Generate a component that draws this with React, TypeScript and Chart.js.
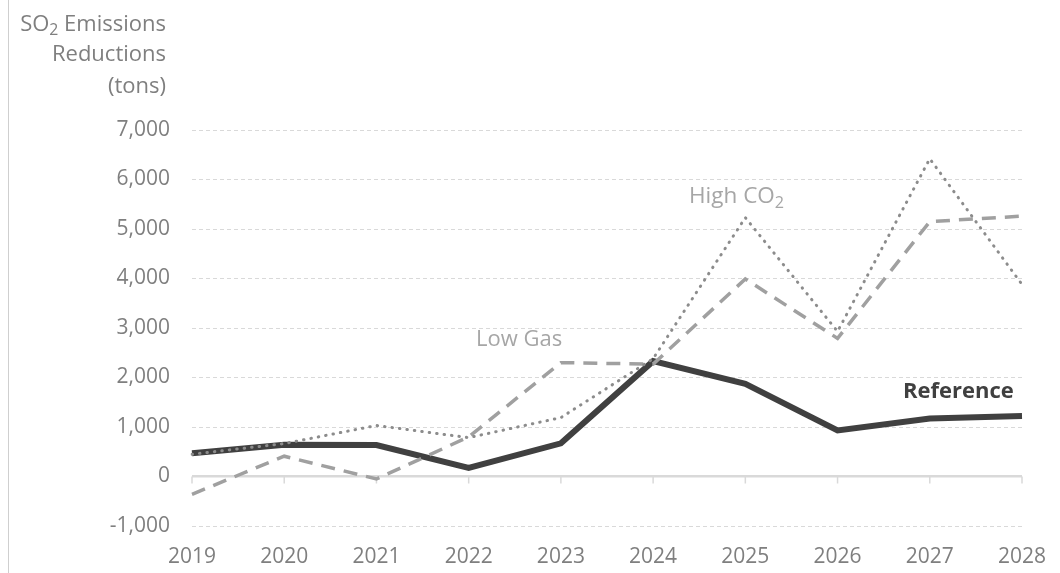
import React, { useEffect, useRef } from "react";
import { Chart, registerables } from "chart.js";

Chart.register(...registerables);

const years = ["2019", "2020", "2021", "2022", "2023", "2024", "2025", "2026", "2027", "2028"];
const referenceValues = [470, 640, 635, 175, 670, 2330, 1870, 930, 1170, 1220];
const lowGasValues = [-360, 410, -50, 800, 2300, 2270, 3990, 2790, 5150, 5260];
const highCO2Values = [450, 665, 1030, 785, 1190, 2380, 5230, 2930, 6420, 3880];
const yMin = -1000;
const yMax = 7000;
const yStep = 1000;

const FONT = "'Open Sans', 'DejaVu Sans', sans-serif";
const TEXT_GRAY = "#7f7f7f";
const GRID = "#d9d9d9";

const zeroTicks = {
  id: "zeroTicks",
  beforeDatasetsDraw(chart: any) {
    const x = chart.scales.x;
    const y = chart.scales.y;
    const ctx = chart.ctx;
    const y0 = y.getPixelForValue(0);
    ctx.save();
    ctx.strokeStyle = GRID;
    ctx.lineWidth = 1.5;
    for (let i = 0; i < years.length; i++) {
      const px = x.getPixelForValue(i);
      ctx.beginPath();
      ctx.moveTo(px, y0);
      ctx.lineTo(px, y0 + 7);
      ctx.stroke();
    }
    ctx.restore();
  },
};

export default function App() {
  const ref = useRef<HTMLCanvasElement | null>(null);
  useEffect(() => {
    if (!ref.current) return;
    const chart = new Chart(ref.current, {
      type: "line",
      data: {
        labels: years,
        datasets: [
          {
            label: "High CO2",
            data: highCO2Values,
            borderColor: "#8c8c8c",
            borderWidth: 3,
            borderDash: [0.5, 7],
            borderCapStyle: "round",
            pointRadius: 0,
            tension: 0,
          },
          {
            label: "Low Gas",
            data: lowGasValues,
            borderColor: "#a0a0a0",
            borderWidth: 3.5,
            borderDash: [14, 9],
            pointRadius: 0,
            tension: 0,
          },
          {
            label: "Reference",
            data: referenceValues,
            borderColor: "#404040",
            borderWidth: 6,
            pointRadius: 0,
            tension: 0,
          },
        ],
      },
      options: {
        animation: false,
        responsive: false,
        maintainAspectRatio: false,
        layout: { padding: { top: 130, right: 38, bottom: 0, left: 0 } },
        plugins: {
          legend: { display: false },
          tooltip: { enabled: false },
          title: { display: false },
        },
        scales: {
          x: {
            type: "category",
            offset: false,
            grid: { display: false, drawTicks: false },
            border: { display: false },
            ticks: {
              color: TEXT_GRAY,
              font: { family: FONT, size: 21 },
              padding: 18,
              maxRotation: 0,
              autoSkip: false,
            },
            afterFit(scale: any) {
              scale.height = 47;
              scale.paddingLeft = 0;
              scale.paddingRight = 0;
            },
          },
          y: {
            min: yMin,
            max: yMax,
            grid: {
              drawTicks: false,
              color: GRID,
              lineWidth: (ctx: any) => (ctx.tick && ctx.tick.value === 0 ? 2.5 : 1),
            },
            border: {
              display: false,
              dash: (ctx: any) => (ctx.tick && ctx.tick.value === 0 ? [] : [4, 3]),
            },
            ticks: {
              stepSize: yStep,
              color: TEXT_GRAY,
              font: { family: FONT, size: 21 },
              padding: 22,
              callback: (v: any) => Number(v).toLocaleString("en-US"),
            },
            afterFit(scale: any) {
              scale.width = 192;
              scale.paddingTop = 0;
              scale.paddingBottom = 0;
            },
          },
        },
      } as any,
      plugins: [zeroTicks],
    });
    return () => chart.destroy();
  }, []);

  const sub = (t: string) => (
    <span style={{ fontSize: "0.72em", position: "relative", top: "0.28em", lineHeight: 0 }}>{t}</span>
  );

  const text: React.CSSProperties = {
    position: "absolute",
    fontFamily: FONT,
    fontSize: 22,
    lineHeight: "22px",
    whiteSpace: "nowrap",
  };

  return (
    <div style={{ position: "absolute", left: 0, top: 0, width: 1060, height: 573, background: "#fff", overflow: "hidden" }}>
      <canvas ref={ref} width={1060} height={573} style={{ position: "absolute", left: 0, top: 0, width: 1060, height: 573 }} />
      <div style={{ position: "absolute", left: 8, top: 0, width: 1, height: 573, background: "#cfcfcf" }} />
      <div style={{ ...text, color: TEXT_GRAY, left: 0, width: 166, textAlign: "right", top: 11 }}>SO{sub("2")} Emissions</div>
      <div style={{ ...text, color: TEXT_GRAY, left: 0, width: 166, textAlign: "right", top: 41 }}>Reductions</div>
      <div style={{ ...text, color: TEXT_GRAY, left: 0, width: 166, textAlign: "right", top: 73 }}>(tons)</div>
      <div style={{ ...text, color: "#a6a6a6", left: 689, top: 184, fontSize: 22.5 }}>High CO{sub("2")}</div>
      <div style={{ ...text, color: "#a6a6a6", left: 476, top: 326 }}>Low Gas</div>
      <div style={{ ...text, color: "#404040", fontWeight: 700, left: 903, top: 378 }}>Reference</div>
    </div>
  );
}
